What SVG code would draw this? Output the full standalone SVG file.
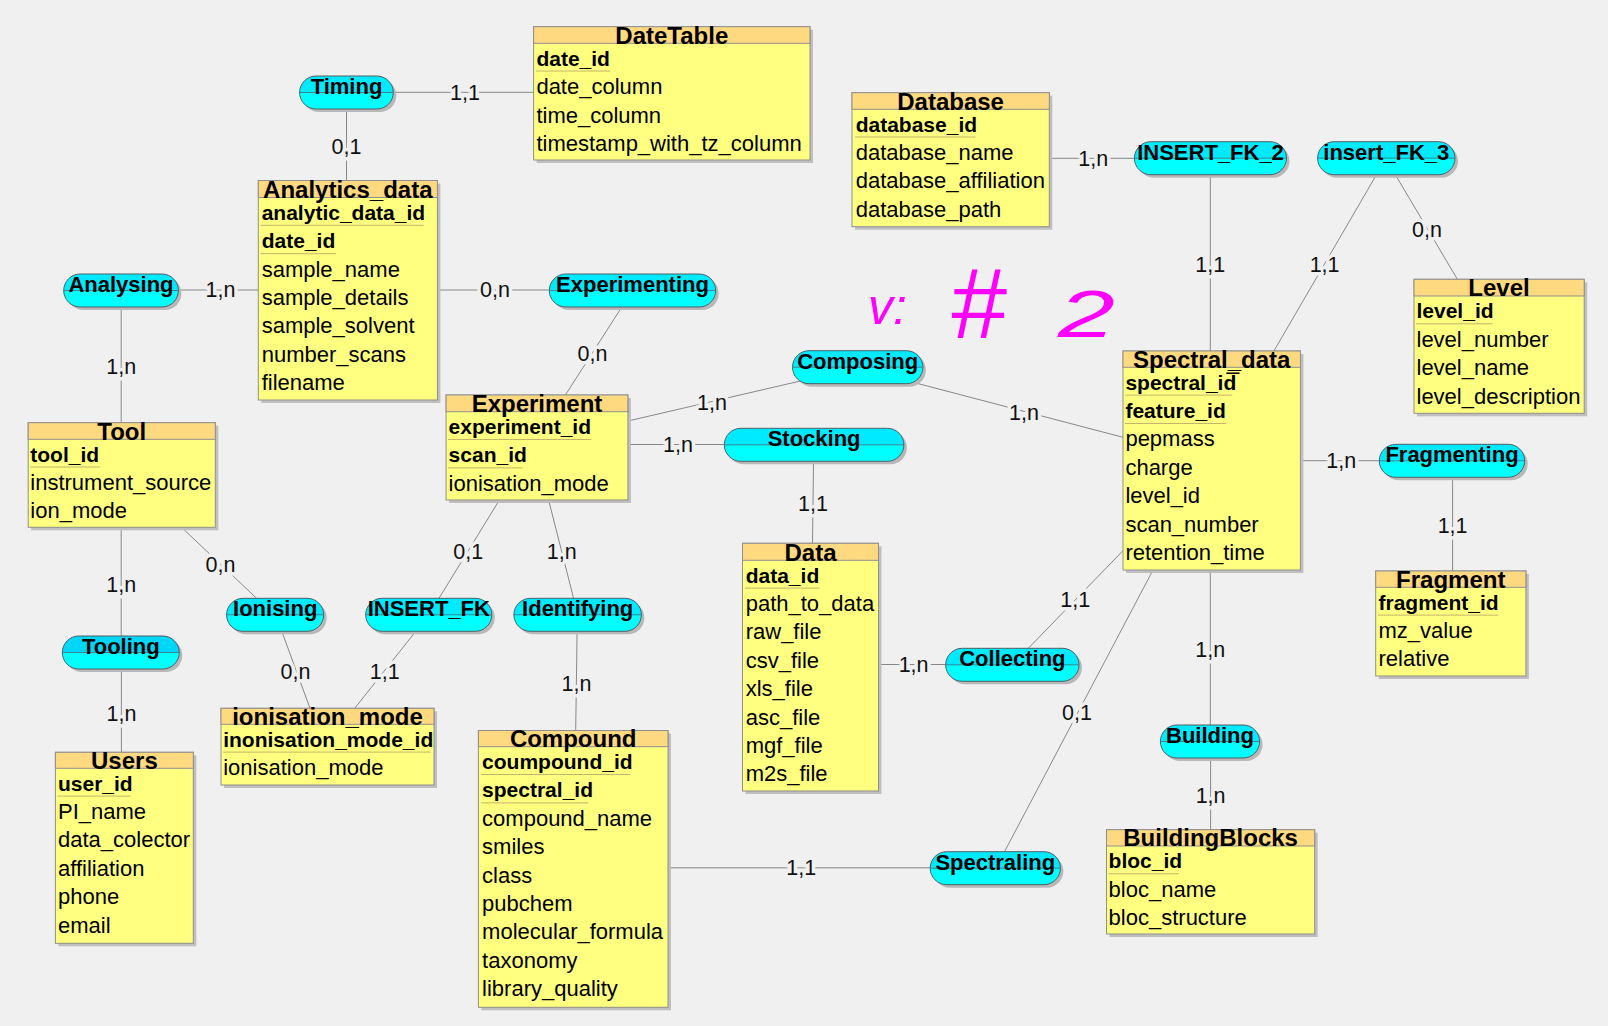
<svg xmlns="http://www.w3.org/2000/svg" width="1608" height="1026" viewBox="0 0 1608 1026">
<defs>
<style>
.ts{fill:#bfbfbf}
.tb{fill:#ffff80;stroke:#8f8f8f;stroke-width:1}
.th{fill:#ffd97f;stroke:#8f8f8f;stroke-width:1}
.ttl{font-family:"Liberation Sans",Arial,sans-serif;font-weight:bold;font-size:24px;text-anchor:middle;fill:#000}
.k{font-family:"Liberation Sans",Arial,sans-serif;font-weight:bold;font-size:21px;fill:#000}
.a{font-family:"Liberation Sans",Arial,sans-serif;font-size:22px;fill:#000}
.ul{stroke:#c4b46c;stroke-width:1}
.ps{fill:#b8b8b8}
.pl{fill:url(#pg);stroke:#4f5f66;stroke-width:1}
.pl2{fill:url(#pg2);stroke:#4f5f66;stroke-width:1}
.pm{stroke:#3d6f7c;stroke-width:0.8}
.pt{font-family:"Liberation Sans",Arial,sans-serif;font-weight:bold;font-size:22px;text-anchor:middle;fill:#000}
.cn line{stroke:#888;stroke-width:1}
.lb{font-family:"Liberation Sans",Arial,sans-serif;font-size:21.5px;text-anchor:middle;fill:#111;stroke:#f0f0f0;stroke-width:7;paint-order:stroke;stroke-linejoin:round}
.hw{font-family:"Liberation Sans",Arial,sans-serif;font-style:italic;fill:#ff00ff}
</style>
<linearGradient id="pg" x1="0" y1="0" x2="0" y2="1"><stop offset="0.5" stop-color="#00eaff"/><stop offset="0.5" stop-color="#00ffff"/></linearGradient>
<linearGradient id="pg2" x1="0" y1="0" x2="0" y2="1"><stop offset="0.5" stop-color="#00d6f8"/><stop offset="0.5" stop-color="#00ffff"/></linearGradient>
</defs>
<rect x="0" y="0" width="1608" height="1026" fill="#f0f0f0"/>

<g id="connectors" class="cn">
<line x1="393.3" y1="92.3" x2="533.6" y2="92.3"/>
<line x1="346.5" y1="109" x2="346.5" y2="180.5"/>
<line x1="178.4" y1="290" x2="258.3" y2="290"/>
<line x1="437.4" y1="290" x2="549.3" y2="290"/>
<line x1="121.2" y1="307" x2="121.2" y2="422.7"/>
<line x1="621.8" y1="307" x2="565.4" y2="395"/>
<line x1="1049.3" y1="158.3" x2="1134.4" y2="158.3"/>
<line x1="1210.3" y1="175" x2="1210.3" y2="351"/>
<line x1="1376.3" y1="175" x2="1273.9" y2="351"/>
<line x1="1395.5" y1="175" x2="1457.4" y2="279.3"/>
<line x1="627.9" y1="421" x2="800.4" y2="381"/>
<line x1="914.6" y1="382.7" x2="1123" y2="437.3"/>
<line x1="627.9" y1="444.5" x2="724.3" y2="444.5"/>
<line x1="813.5" y1="461" x2="812.5" y2="543.3"/>
<line x1="1300.4" y1="460.7" x2="1379.3" y2="460.7"/>
<line x1="1452.6" y1="477" x2="1452.6" y2="571"/>
<line x1="121.2" y1="527.3" x2="121.2" y2="636"/>
<line x1="181.5" y1="527.3" x2="256.6" y2="598.3"/>
<line x1="499.4" y1="500" x2="439" y2="598.3"/>
<line x1="548.6" y1="500" x2="573.6" y2="598.3"/>
<line x1="281.7" y1="631" x2="310" y2="708.3"/>
<line x1="416" y1="631" x2="354.7" y2="708.3"/>
<line x1="121.4" y1="669.3" x2="121.4" y2="752.3"/>
<line x1="577.1" y1="631.7" x2="575.7" y2="730.5"/>
<line x1="878.5" y1="664.5" x2="945.7" y2="664.5"/>
<line x1="1028.3" y1="648.3" x2="1123" y2="550.7"/>
<line x1="1210.3" y1="570" x2="1210.3" y2="725"/>
<line x1="1153" y1="570" x2="1004.5" y2="851.7"/>
<line x1="1210.6" y1="758" x2="1210.6" y2="829.7"/>
<line x1="668" y1="867.8" x2="930.2" y2="867.8"/>
<text class="lb" x="465" y="99.5">1,1</text>
<text class="lb" x="346.5" y="154">0,1</text>
<text class="lb" x="220.4" y="297.3">1,n</text>
<text class="lb" x="495" y="297.3">0,n</text>
<text class="lb" x="121.2" y="374">1,n</text>
<text class="lb" x="592.5" y="360.6">0,n</text>
<text class="lb" x="1093.2" y="165.6">1,n</text>
<text class="lb" x="1210.3" y="272.3">1,1</text>
<text class="lb" x="1324.6" y="272.3">1,1</text>
<text class="lb" x="1427" y="236.6">0,n</text>
<text class="lb" x="712" y="410.3">1,n</text>
<text class="lb" x="1024" y="420">1,n</text>
<text class="lb" x="677.9" y="451.8">1,n</text>
<text class="lb" x="812.9" y="511.3">1,1</text>
<text class="lb" x="1341.2" y="468">1,n</text>
<text class="lb" x="1452.6" y="533.3">1,1</text>
<text class="lb" x="121.2" y="592.3">1,n</text>
<text class="lb" x="220.4" y="572.3">0,n</text>
<text class="lb" x="468.2" y="559">0,1</text>
<text class="lb" x="561.8" y="559">1,n</text>
<text class="lb" x="295.5" y="679">0,n</text>
<text class="lb" x="384.7" y="679">1,1</text>
<text class="lb" x="121.4" y="720.6">1,n</text>
<text class="lb" x="576.4" y="690.6">1,n</text>
<text class="lb" x="913.6" y="671.8">1,n</text>
<text class="lb" x="1075.3" y="607.3">1,1</text>
<text class="lb" x="1210.3" y="657.3">1,n</text>
<text class="lb" x="1077" y="720.3">0,1</text>
<text class="lb" x="1210.6" y="803.3">1,n</text>
<text class="lb" x="801.2" y="875.1">1,1</text>
</g>

<g id="t-datetable">
<rect class="ts" x="536.6" y="29.7" width="276.4" height="133.3"/>
<rect class="tb" x="533.6" y="26.7" width="276.4" height="133.3"/>
<rect class="th" x="533.6" y="26.7" width="276.4" height="16.6"/>
<text class="ttl" x="671.8" y="43.6">DateTable</text>
<text class="k" x="536.4" y="65.6">date_id</text>
<line class="ul" x1="536" y1="71" x2="610.4" y2="71"/>
<text class="a" x="536.4" y="94.2">date_column</text>
<text class="a" x="536.4" y="122.8">time_column</text>
<text class="a" x="536.4" y="151.4">timestamp_with_tz_column</text>
</g>

<g id="t-analytics">
<rect class="ts" x="261.3" y="183.5" width="179.1" height="219.5"/>
<rect class="tb" x="258.3" y="180.5" width="179.1" height="219.5"/>
<rect class="th" x="258.3" y="180.5" width="179.1" height="17"/>
<text class="ttl" x="347.8" y="197.8">Analytics_data</text>
<text class="k" x="261.7" y="219.8">analytic_data_id</text>
<line class="ul" x1="260.7" y1="225.3" x2="423.6" y2="225.3"/>
<text class="k" x="261.7" y="248.2">date_id</text>
<line class="ul" x1="260.7" y1="253.7" x2="336" y2="253.7"/>
<text class="a" x="261.7" y="276.6">sample_name</text>
<text class="a" x="261.7" y="305">sample_details</text>
<text class="a" x="261.7" y="333.4">sample_solvent</text>
<text class="a" x="261.7" y="361.8">number_scans</text>
<text class="a" x="261.7" y="390.2">filename</text>
</g>

<g id="t-database">
<rect class="ts" x="855" y="95.7" width="197.3" height="134"/>
<rect class="tb" x="852" y="92.7" width="197.3" height="134"/>
<rect class="th" x="852" y="92.7" width="197.3" height="16.6"/>
<text class="ttl" x="950.6" y="109.6">Database</text>
<text class="k" x="855.7" y="131.6">database_id</text>
<line class="ul" x1="855" y1="137" x2="975.4" y2="137"/>
<text class="a" x="855.7" y="160">database_name</text>
<text class="a" x="855.7" y="188.4">database_affiliation</text>
<text class="a" x="855.7" y="216.8">database_path</text>
</g>

<g id="t-level">
<rect class="ts" x="1417" y="282.3" width="170.2" height="134"/>
<rect class="tb" x="1414" y="279.3" width="170.2" height="134"/>
<rect class="th" x="1414" y="279.3" width="170.2" height="16.7"/>
<text class="ttl" x="1499" y="296.3">Level</text>
<text class="k" x="1416.5" y="318.3">level_id</text>
<line class="ul" x1="1416" y1="323.8" x2="1492.7" y2="323.8"/>
<text class="a" x="1416.5" y="346.7">level_number</text>
<text class="a" x="1416.5" y="375.1">level_name</text>
<text class="a" x="1416.5" y="403.5">level_description</text>
</g>

<g id="t-spectral">
<rect class="ts" x="1126" y="354" width="177.4" height="219"/>
<rect class="tb" x="1123" y="351" width="177.4" height="219"/>
<rect class="th" x="1123" y="351" width="177.4" height="16.3"/>
<text class="ttl" x="1211.7" y="367.6">Spectral_data</text>
<text class="k" x="1125.4" y="389.6">spectral_id</text>
<path d="M1226.3 373.2 H1239.5" stroke="#000" stroke-width="1.5" fill="none"/>
<line class="ul" x1="1125" y1="395.1" x2="1232.3" y2="395.1"/>
<text class="k" x="1125.4" y="418">feature_id</text>
<line class="ul" x1="1125" y1="423.5" x2="1226.3" y2="423.5"/>
<text class="a" x="1125.4" y="446.4">pepmass</text>
<text class="a" x="1125.4" y="474.8">charge</text>
<text class="a" x="1125.4" y="503.2">level_id</text>
<text class="a" x="1125.4" y="531.6">scan_number</text>
<text class="a" x="1125.4" y="560">retention_time</text>
</g>

<g id="t-tool">
<rect class="ts" x="31.2" y="425.7" width="187.1" height="104.6"/>
<rect class="tb" x="28.2" y="422.7" width="187.1" height="104.6"/>
<rect class="th" x="28.2" y="422.7" width="187.1" height="16.6"/>
<text class="ttl" x="121.7" y="439.6">Tool</text>
<text class="k" x="30.3" y="461.6">tool_id</text>
<line class="ul" x1="30" y1="467" x2="100" y2="467"/>
<text class="a" x="30.3" y="490">instrument_source</text>
<text class="a" x="30.3" y="518.4">ion_mode</text>
</g>

<g id="t-experiment">
<rect class="ts" x="449.1" y="398" width="181.8" height="105"/>
<rect class="tb" x="446.1" y="395" width="181.8" height="105"/>
<rect class="th" x="446.1" y="395" width="181.8" height="16.7"/>
<text class="ttl" x="537" y="412">Experiment</text>
<text class="k" x="448.6" y="434">experiment_id</text>
<line class="ul" x1="448" y1="439.5" x2="591.4" y2="439.5"/>
<text class="k" x="448.6" y="462.4">scan_id</text>
<line class="ul" x1="448" y1="467.9" x2="522.5" y2="467.9"/>
<text class="a" x="448.6" y="490.8">ionisation_mode</text>
</g>

<g id="t-data">
<rect class="ts" x="745.5" y="546.3" width="136" height="247.7"/>
<rect class="tb" x="742.5" y="543.3" width="136" height="247.7"/>
<rect class="th" x="742.5" y="543.3" width="136" height="17"/>
<text class="ttl" x="810.5" y="560.6">Data</text>
<text class="k" x="745.7" y="582.6">data_id</text>
<line class="ul" x1="745" y1="588.1" x2="819.3" y2="588.1"/>
<text class="a" x="745.7" y="611">path_to_data</text>
<text class="a" x="745.7" y="639.4">raw_file</text>
<text class="a" x="745.7" y="667.8">csv_file</text>
<text class="a" x="745.7" y="696.2">xls_file</text>
<text class="a" x="745.7" y="724.6">asc_file</text>
<text class="a" x="745.7" y="753">mgf_file</text>
<text class="a" x="745.7" y="781.4">m2s_file</text>
</g>

<g id="t-fragment">
<rect class="ts" x="1378.7" y="574" width="150.2" height="105"/>
<rect class="tb" x="1375.7" y="571" width="150.2" height="105"/>
<rect class="th" x="1375.7" y="571" width="150.2" height="16.3"/>
<text class="ttl" x="1450.8" y="587.6">Fragment</text>
<text class="k" x="1378.5" y="609.6">fragment_id</text>
<line class="ul" x1="1378" y1="615.1" x2="1498.6" y2="615.1"/>
<text class="a" x="1378.5" y="638">mz_value</text>
<text class="a" x="1378.5" y="666.4">relative</text>
</g>

<g id="t-ionisation-mode">
<rect class="ts" x="224" y="711.3" width="213" height="76.7"/>
<rect class="tb" x="221" y="708.3" width="213" height="76.7"/>
<rect class="th" x="221" y="708.3" width="213" height="16"/>
<text class="ttl" x="327.5" y="724.6">ionisation_mode</text>
<text class="k" x="223.2" y="746.6">inonisation_mode_id</text>
<line class="ul" x1="223" y1="752.1" x2="430.8" y2="752.1"/>
<text class="a" x="223.2" y="775">ionisation_mode</text>
</g>

<g id="t-users">
<rect class="ts" x="58.4" y="755.3" width="137.9" height="191"/>
<rect class="tb" x="55.4" y="752.3" width="137.9" height="191"/>
<rect class="th" x="55.4" y="752.3" width="137.9" height="16"/>
<text class="ttl" x="124.4" y="768.6">Users</text>
<text class="k" x="58" y="790.6">user_id</text>
<line class="ul" x1="57.5" y1="796.1" x2="130.4" y2="796.1"/>
<text class="a" x="58" y="819">PI_name</text>
<text class="a" x="58" y="847.4">data_colector</text>
<text class="a" x="58" y="875.8">affiliation</text>
<text class="a" x="58" y="904.2">phone</text>
<text class="a" x="58" y="932.6">email</text>
</g>

<g id="t-compound">
<rect class="ts" x="481.4" y="733.5" width="189.6" height="276.8"/>
<rect class="tb" x="478.4" y="730.5" width="189.6" height="276.8"/>
<rect class="th" x="478.4" y="730.5" width="189.6" height="16.2"/>
<text class="ttl" x="573.2" y="747">Compound</text>
<text class="k" x="482.1" y="769">coumpound_id</text>
<line class="ul" x1="481.2" y1="774.5" x2="630.3" y2="774.5"/>
<text class="k" x="482.1" y="797.4">spectral_id</text>
<line class="ul" x1="481.2" y1="802.9" x2="588.4" y2="802.9"/>
<text class="a" x="482.1" y="825.8">compound_name</text>
<text class="a" x="482.1" y="854.2">smiles</text>
<text class="a" x="482.1" y="882.6">class</text>
<text class="a" x="482.1" y="911">pubchem</text>
<text class="a" x="482.1" y="939.4">molecular_formula</text>
<text class="a" x="482.1" y="967.8">taxonomy</text>
<text class="a" x="482.1" y="996.2">library_quality</text>
</g>

<g id="t-buildingblocks">
<rect class="ts" x="1109.5" y="832.7" width="208.2" height="104.3"/>
<rect class="tb" x="1106.5" y="829.7" width="208.2" height="104.3"/>
<rect class="th" x="1106.5" y="829.7" width="208.2" height="16.3"/>
<text class="ttl" x="1210.6" y="846.3">BuildingBlocks</text>
<text class="k" x="1108.6" y="868.3">bloc_id</text>
<line class="ul" x1="1108.3" y1="873.8" x2="1178.8" y2="873.8"/>
<text class="a" x="1108.6" y="896.7">bloc_name</text>
<text class="a" x="1108.6" y="925.1">bloc_structure</text>
</g>

<g id="r-timing"><rect class="ps" x="302.6" y="79" width="93.7" height="33" rx="16.5"/><rect class="pl" x="299.6" y="76" width="93.7" height="33" rx="16.5"/><line class="pm" x1="299.6" y1="92.5" x2="393.3" y2="92.5"/><text class="pt" x="346.5" y="94">Timing</text></g>
<g id="r-analysing"><rect class="ps" x="66.7" y="277" width="114.7" height="33" rx="16.5"/><rect class="pl" x="63.7" y="274" width="114.7" height="33" rx="16.5"/><line class="pm" x1="63.7" y1="290.5" x2="178.4" y2="290.5"/><text class="pt" x="121" y="292">Analysing</text></g>
<g id="r-experimenting"><rect class="ps" x="552.3" y="277" width="166.4" height="33" rx="16.5"/><rect class="pl" x="549.3" y="274" width="166.4" height="33" rx="16.5"/><line class="pm" x1="549.3" y1="290.5" x2="715.7" y2="290.5"/><text class="pt" x="632.5" y="292">Experimenting</text></g>
<g id="r-insert-fk-2"><rect class="ps" x="1137.4" y="144.7" width="152.1" height="33" rx="16.5"/><rect class="pl" x="1134.4" y="141.7" width="152.1" height="33" rx="16.5"/><line class="pm" x1="1134.4" y1="158.2" x2="1286.5" y2="158.2"/><text class="pt" x="1210.5" y="159.7">INSERT_FK_2</text></g>
<g id="r-insert-fk-3"><rect class="ps" x="1320.6" y="144.7" width="137.4" height="33" rx="16.5"/><rect class="pl" x="1317.6" y="141.7" width="137.4" height="33" rx="16.5"/><line class="pm" x1="1317.6" y1="158.2" x2="1455" y2="158.2"/><text class="pt" x="1386.3" y="159.7">insert_FK_3</text></g>
<g id="r-composing"><rect class="ps" x="795.5" y="353.7" width="130.4" height="33" rx="16.5"/><rect class="pl" x="792.5" y="350.7" width="130.4" height="33" rx="16.5"/><line class="pm" x1="792.5" y1="367.2" x2="922.9" y2="367.2"/><text class="pt" x="857.7" y="368.7">Composing</text></g>
<g id="r-stocking"><rect class="ps" x="727.3" y="431.3" width="179.6" height="33" rx="16.5"/><rect class="pl" x="724.3" y="428.3" width="179.6" height="33" rx="16.5"/><line class="pm" x1="724.3" y1="444.8" x2="903.9" y2="444.8"/><text class="pt" x="814.1" y="446.3">Stocking</text></g>
<g id="r-fragmenting"><rect class="ps" x="1382.3" y="447.3" width="145.4" height="33" rx="16.5"/><rect class="pl" x="1379.3" y="444.3" width="145.4" height="33" rx="16.5"/><line class="pm" x1="1379.3" y1="460.8" x2="1524.7" y2="460.8"/><text class="pt" x="1452" y="462.3">Fragmenting</text></g>
<g id="r-ionising"><rect class="ps" x="229.6" y="601.3" width="97.1" height="33" rx="16.5"/><rect class="pl" x="226.6" y="598.3" width="97.1" height="33" rx="16.5"/><line class="pm" x1="226.6" y1="614.8" x2="323.7" y2="614.8"/><text class="pt" x="275.2" y="616.3">Ionising</text></g>
<g id="r-insert-fk"><rect class="ps" x="368.7" y="601.3" width="126.1" height="33" rx="16.5"/><rect class="pl" x="365.7" y="598.3" width="126.1" height="33" rx="16.5"/><line class="pm" x1="365.7" y1="614.8" x2="491.8" y2="614.8"/><text class="pt" x="428.8" y="616.3">INSERT_FK</text></g>
<g id="r-identifying"><rect class="ps" x="516.9" y="601.3" width="127.5" height="33" rx="16.5"/><rect class="pl" x="513.9" y="598.3" width="127.5" height="33" rx="16.5"/><line class="pm" x1="513.9" y1="614.8" x2="641.4" y2="614.8"/><text class="pt" x="577.7" y="616.3">Identifying</text></g>
<g id="r-tooling"><rect class="ps" x="65.3" y="639" width="117" height="33" rx="16.5"/><rect class="pl2" x="62.3" y="636" width="117" height="33" rx="16.5"/><line class="pm" x1="62.3" y1="652.5" x2="179.3" y2="652.5"/><text class="pt" x="120.8" y="654">Tooling</text></g>
<g id="r-collecting"><rect class="ps" x="948.7" y="651.3" width="133.3" height="33" rx="16.5"/><rect class="pl" x="945.7" y="648.3" width="133.3" height="33" rx="16.5"/><line class="pm" x1="945.7" y1="664.8" x2="1079" y2="664.8"/><text class="pt" x="1012.4" y="666.3">Collecting</text></g>
<g id="r-building"><rect class="ps" x="1163.4" y="728" width="99.2" height="33" rx="16.5"/><rect class="pl" x="1160.4" y="725" width="99.2" height="33" rx="16.5"/><line class="pm" x1="1160.4" y1="741.5" x2="1259.6" y2="741.5"/><text class="pt" x="1210" y="743">Building</text></g>
<g id="r-spectraling"><rect class="ps" x="933.2" y="854.7" width="130.2" height="33" rx="16.5"/><rect class="pl" x="930.2" y="851.7" width="130.2" height="33" rx="16.5"/><line class="pm" x1="930.2" y1="868.2" x2="1060.4" y2="868.2"/><text class="pt" x="995.3" y="869.7">Spectraling</text></g>

<g id="annotation">
<text class="hw" x="868" y="324" font-size="50">v:</text>
<text class="hw" x="950" y="338" font-size="100">#</text>
<text class="hw" transform="translate(1058,337) scale(1.55,1)" x="0" y="0" font-size="66">2</text>
</g>
</svg>
